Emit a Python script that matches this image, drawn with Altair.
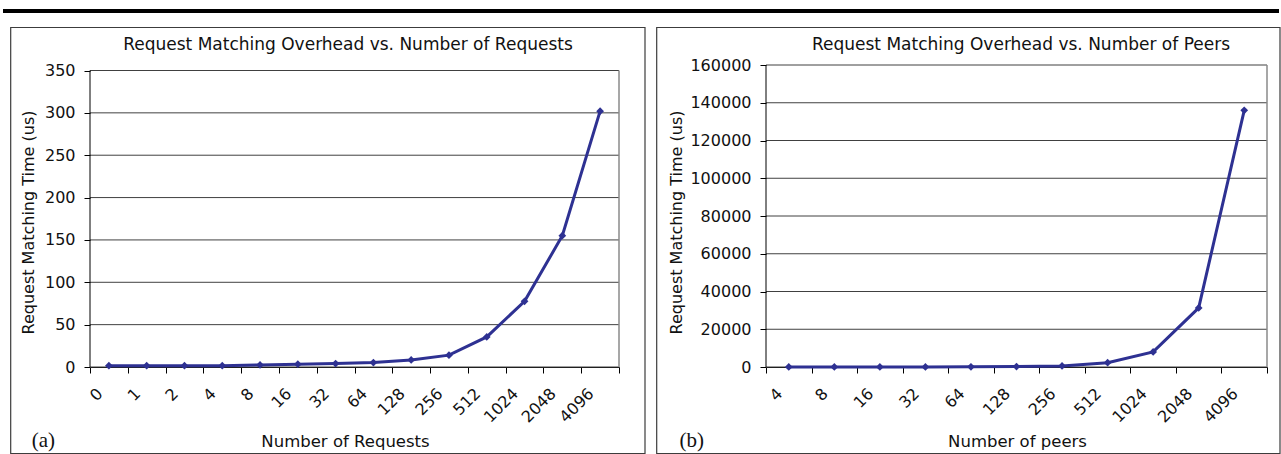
import altair as alt
import pandas as pd

# Request matching time (microseconds) vs. number of requests
req_labels = ["0", "1", "2", "4", "8", "16", "32", "64", "128", "256", "512", "1024", "2048", "4096"]
req_times = [1.6, 1.6, 1.6, 1.6, 2.4, 3.3, 4.1, 5.3, 8.3, 14.0, 35.5, 77.5, 155.0, 302.0]
req_ticks = [0, 50, 100, 150, 200, 250, 300, 350]

# Request matching time (microseconds) vs. number of peers
peer_labels = ["4", "8", "16", "32", "64", "128", "256", "512", "1024", "2048", "4096"]
peer_times = [5, 10, 20, 40, 100, 200, 550, 2300, 8000, 31300, 136000]
peer_ticks = [0, 20000, 40000, 60000, 80000, 100000, 120000, 140000, 160000]

LINE = "#2E3192"
FONT = "DejaVu Sans"
SERIF = "Liberation Serif"
GRID = "#404040"
H = 302          # plot height shared by both panels
TOP = 64.5       # distance of the plot area from the top of the page
LEFT = 90        # distance of the first plot area from the left of the page

one_row = pd.DataFrame({"a": [0]})


def panel(cats, vals, ticks, width, dom_max, chart_title, title_x, x_title, x_title_x,
          y_title_x, tag, tag_x, box_x1, box_x2, extra=None):
    df = pd.DataFrame({"cat": cats, "t": vals})
    grid_df = pd.DataFrame({"t": ticks})
    xs = alt.Scale(type="band", paddingInner=0, paddingOuter=0)
    ys = alt.Scale(domain=[0, dom_max], nice=False, zero=True)
    x_axis = alt.Axis(
        title=x_title, tickBand="extent", labelAngle=-45, labelAlign="right",
        labelBaseline="top", labelOffset=-15, labelPadding=12, tickSize=6,
        tickColor="#000", domainColor="#000", labelColor="#111", labelFont=FONT,
        labelFontSize=16, labelOverlap=False, grid=False, titleFont=FONT,
        titleFontSize=16.5, titleFontWeight="normal", titleColor="#111",
        titleX=x_title_x, titleY=79, titleBaseline="alphabetic",
    )
    y_axis = alt.Axis(
        title="Request Matching Time (us)", values=ticks, format="d", domain=False,
        grid=False, tickSize=6, tickColor="#000", labelPadding=9, labelOverlap=False,
        labelColor="#111", labelFont=FONT, labelFontSize=16, titleFont=FONT,
        titleFontSize=16, titleFontWeight="normal", titleColor="#111",
        titleX=y_title_x, titleY=157, titleAngle=-90, titleAlign="center",
        titleBaseline="alphabetic",
    )
    x_enc = alt.X("cat:N", sort=cats, scale=xs, axis=x_axis)
    y_enc = alt.Y("t:Q", scale=ys, axis=y_axis)

    # horizontal gridlines at every labelled value
    grid = alt.Chart(grid_df).mark_rule(color=GRID, strokeWidth=1).encode(
        y=y_enc, x=alt.value(0), x2=alt.value(width)
    )
    line = alt.Chart(df).mark_line(color=LINE, strokeWidth=3).encode(x=x_enc, y=y_enc)
    pts = alt.Chart(df).mark_point(
        shape="diamond", filled=True, size=60, color=LINE, opacity=1
    ).encode(x=x_enc, y=y_enc)
    # left axis line and grey right border of the plot, from 0 up to the top value
    edges = alt.Chart(pd.DataFrame({"t": [0], "t2": [ticks[-1]]}))
    left_edge = edges.mark_rule(color="#000", strokeWidth=1).encode(
        x=alt.value(0), y=y_enc, y2="t2:Q"
    )
    right_edge = edges.mark_rule(color="#8a8a8a", strokeWidth=1.5).encode(
        x=alt.value(width), y=y_enc, y2="t2:Q"
    )
    deco = alt.Chart(one_row)
    box = deco.mark_rect(fill="white", fillOpacity=0, stroke="#3c3c3c", strokeWidth=1.2).encode(
        x=alt.value(box_x1), x2=alt.value(box_x2), y=alt.value(-37.5), y2=alt.value(388.5)
    )
    title = deco.mark_text(
        font=FONT, fontSize=17, color="#111", align="center", baseline="alphabetic"
    ).encode(x=alt.value(title_x), y=alt.value(-15), text=alt.value(chart_title))
    label = deco.mark_text(
        font=SERIF, fontSize=21, color="#111", align="right", baseline="alphabetic"
    ).encode(x=alt.value(tag_x), y=alt.value(382), text=alt.value(tag))
    layers = [grid, left_edge, right_edge, line, pts, box, title, label]
    if extra is not None:
        layers = layers + extra
    return alt.layer(*layers).properties(width=width, height=H)


# page corner anchor, so the layout starts exactly at the top-left of the page
corner = alt.Chart(one_row).mark_rect(fill="white", opacity=0).encode(
    x=alt.value(-LEFT), x2=alt.value(-LEFT + 1), y=alt.value(-TOP), y2=alt.value(-TOP + 1)
)
top_rule = alt.Chart(one_row).mark_rule(color="#000", strokeWidth=4).encode(
    x=alt.value(-87), x2=alt.value(1189), y=alt.value(-54)
)

left = panel(
    req_labels, req_times, req_ticks, width=529, dom_max=350 * H / 296.5,
    chart_title="Request Matching Overhead vs. Number of Requests", title_x=258,
    x_title="Number of Requests", x_title_x=255, y_title_x=-57,
    tag="(a)", tag_x=-35, box_x1=-79.3, box_x2=555, extra=[corner, top_rule],
)
right = panel(
    peer_labels, peer_times, peer_ticks, width=501, dom_max=160000,
    chart_title="Request Matching Overhead vs. Number of Peers", title_x=255,
    x_title="Number of peers", x_title_x=251, y_title_x=-85,
    tag="(b)", tag_x=-62, box_x1=-109.3, box_x2=514,
)

chart = (
    alt.hconcat(left, right, spacing=147, bounds="flush")
    .properties(
        autosize=alt.AutoSizeParams(type="pad"),
        padding={"left": 0, "top": 0, "right": 0, "bottom": 0},
        background="white",
    )
    .configure_view(stroke=None)
)

chart.save("out.html", embed_options={"renderer": "svg", "actions": False})
